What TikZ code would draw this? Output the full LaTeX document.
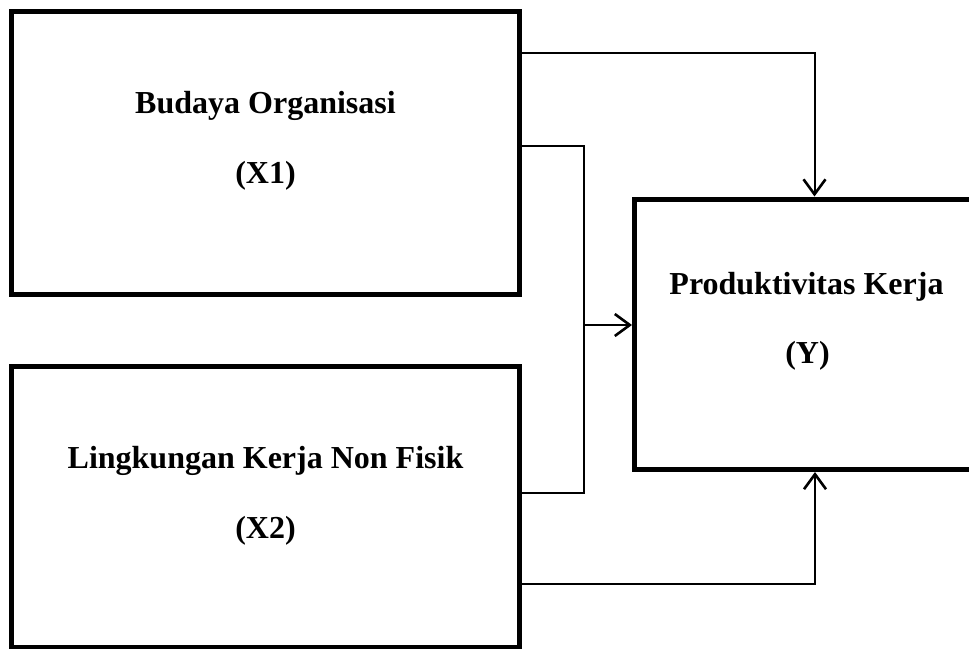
\documentclass[tikz,border=0pt]{standalone}
\usepackage{fontspec}
\setmainfont{Liberation Serif}
\usetikzlibrary{arrows.meta}
\begin{document}
\begin{tikzpicture}[x=1pt,y=-1pt,
  box/.style={draw,line width=5pt,inner sep=0pt},
  lbl/.style={font=\fontsize{32}{38}\selectfont\bfseries,anchor=base,inner sep=0pt},
  conn/.style={line width=2pt},
  tip/.style={-{Straight Barb[length=15pt,width=22pt,line width=2.6pt]}}]
\useasboundingbox (0,0) rectangle (969,648);
\clip (0,0) rectangle (969,648);
% boxes
\node[box,minimum width=508pt,minimum height=282.5pt] (x1) at (265.5,152.75) {};
\node[box,minimum width=508pt,minimum height=281pt] (x2) at (265.5,506.5) {};
\node[box,minimum width=345.5pt,minimum height=270.5pt] (y) at (807.25,199+135.25) {};
% labels
\node[lbl] (x1a) at (265.5,113) {Budaya Organisasi};
\node[lbl] (x1b) at (265.5,183) {(X1)};
\node[lbl] (x2a) at (265.5,468) {Lingkungan Kerja Non Fisik};
\node[lbl] (x2b) at (265.5,538) {(X2)};
\node[lbl] (ya) at (806.5,294) {Produktivitas Kerja};
\node[lbl] (yb) at (807.5,363) {(Y)};
% junction coordinates
\coordinate (j1) at (814.5,53);
\coordinate (a1) at (584,146);
\coordinate (a2) at (584,492.5);
\coordinate (a3) at (584,325);
\coordinate (b1) at (815,584);
% connectors
\draw[conn,tip] (x1.east |- j1) -| (y.north -| j1);
\draw[conn] (x1.east |- a1) -- (a1) -- (a2) -- (x2.east |- a2);
\draw[conn,tip] (a3) -- (y.west |- a3);
\draw[conn,tip] (x2.east |- b1) -| (y.south -| b1);
\end{tikzpicture}
\end{document}
